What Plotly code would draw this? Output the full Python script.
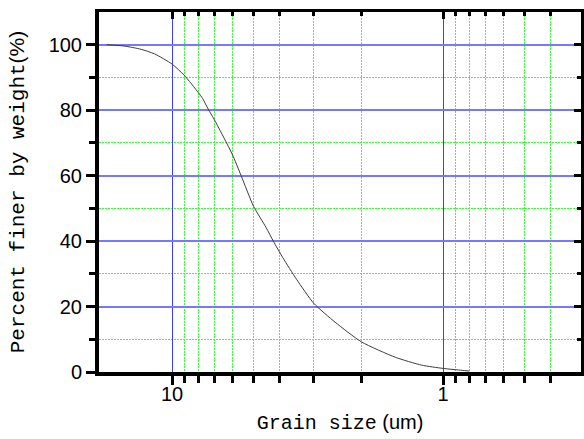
import plotly.graph_objects as go

# Data
grain_size_um = [17.4, 15, 13, 11.6, 10, 9, 8, 7.7, 7.35, 7, 6, 5.56, 5, 4.5, 4.23, 3.9,
                 3.47, 3, 2.5, 2, 1.5, 1.2, 1.0, 0.85, 0.8]
percent_finer = [100, 99.6, 98.6, 97.2, 94.1, 90.6, 85.4, 83.5, 80.3, 77.3, 66.6, 60, 50.6, 44.2, 40, 34.9,
                 28.3, 21, 15.2, 9.2, 4.5, 2.1, 1.1, 0.5, 0.3]

x_major = [10, 1]
x_major_text = ["10", "1"]
x_minor = [9, 8, 7, 6, 5, 4, 3, 2, 0.9, 0.8, 0.7, 0.6, 0.5, 0.4]
y_major = [0, 20, 40, 60, 80, 100]
y_minor = [10, 30, 50, 70, 90]

x_range = [1.2694, -0.509]
y_range = [0, 110]

BLUE_V = "#3c3cff"
BLUE_H = "#7878ff"
GREEN = "#33ff33"
DOTS = "2px,1px"

fig = go.Figure()
fig.add_trace(go.Scatter(x=grain_size_um, y=percent_finer, mode="lines",
                         line=dict(color="#3c3c3c", width=1, shape="spline", smoothing=0.6),
                         showlegend=False, hoverinfo="x+y"))

mono = "Liberation Mono"
sans = "Liberation Sans"

fig.update_layout(
    width=584, height=439,
    margin=dict(l=99, r=3, t=12, b=67),
    paper_bgcolor="white", plot_bgcolor="white",
    showlegend=False,
    xaxis=dict(
        type="log", range=x_range, automargin=False,
        tickmode="array", tickvals=x_major, ticktext=x_major_text,
        ticks="outside", ticklen=9, tickwidth=3, tickcolor="black",
        ticklabelstandoff=-8,
        showline=True, linewidth=4, linecolor="black",
        showgrid=True, gridcolor=BLUE_V, gridwidth=1,
        tickfont=dict(family=sans, size=20, color="black"),
        minor=dict(tickmode="array", tickvals=x_minor, ticks="outside", ticklen=7,
                   tickwidth=3, tickcolor="black", showgrid=True, gridcolor=GREEN,
                   griddash=DOTS, gridwidth=1),
        title=dict(text="Grain size<span style=\"font-family:Liberation Sans\"> (um)</span>",
                   font=dict(family=mono, size=20, color="black"), standoff=12),
        zeroline=False,
    ),
    xaxis2=dict(
        type="log", range=x_range, overlaying="x", side="top", anchor="y", automargin=False,
        tickmode="array", tickvals=x_major, showticklabels=False,
        ticks="inside", ticklen=7, tickwidth=3, tickcolor="black",
        showline=True, linewidth=3, linecolor="black", showgrid=False,
        minor=dict(tickmode="array", tickvals=x_minor, ticks="inside", ticklen=4,
                   tickwidth=3, tickcolor="black", showgrid=False),
        zeroline=False,
    ),
    yaxis=dict(
        range=y_range, automargin=False,
        tickmode="array", tickvals=y_major, ticktext=[str(v) for v in y_major],
        ticks="outside", ticklen=9, tickwidth=3, tickcolor="black",
        showline=True, linewidth=4, linecolor="black",
        showgrid=True, gridcolor=BLUE_H, gridwidth=2,
        tickfont=dict(family=sans, size=20, color="black"),
        minor=dict(tickmode="array", tickvals=y_minor, ticks="outside", ticklen=6,
                   tickwidth=3, tickcolor="black", showgrid=True, gridcolor=GREEN,
                   griddash=DOTS, gridwidth=1),
        title=dict(text="Percent finer by weight<span style=\"font-family:Liberation Sans\">(%)</span>",
                   font=dict(family=mono, size=21, color="black"), standoff=19),
        zeroline=False,
    ),
    yaxis2=dict(
        range=y_range, overlaying="y", side="right", anchor="x", automargin=False,
        tickmode="array", tickvals=y_major, showticklabels=False,
        ticks="inside", ticklen=7, tickwidth=3, tickcolor="black",
        showline=True, linewidth=3, linecolor="black", showgrid=False,
        minor=dict(tickmode="array", tickvals=y_minor, ticks="inside", ticklen=4,
                   tickwidth=3, tickcolor="black", showgrid=False),
        zeroline=False,
    ),
)

fig.add_trace(go.Scatter(x=[grain_size_um[0]], y=[percent_finer[0]], xaxis="x2", yaxis="y2",
                         mode="markers", marker=dict(opacity=0), showlegend=False, hoverinfo="skip"))

post = "document.body.style.margin='0';document.body.style.overflow='hidden';"
fig.write_html("out.html", config={"displayModeBar": False}, post_script=post)
